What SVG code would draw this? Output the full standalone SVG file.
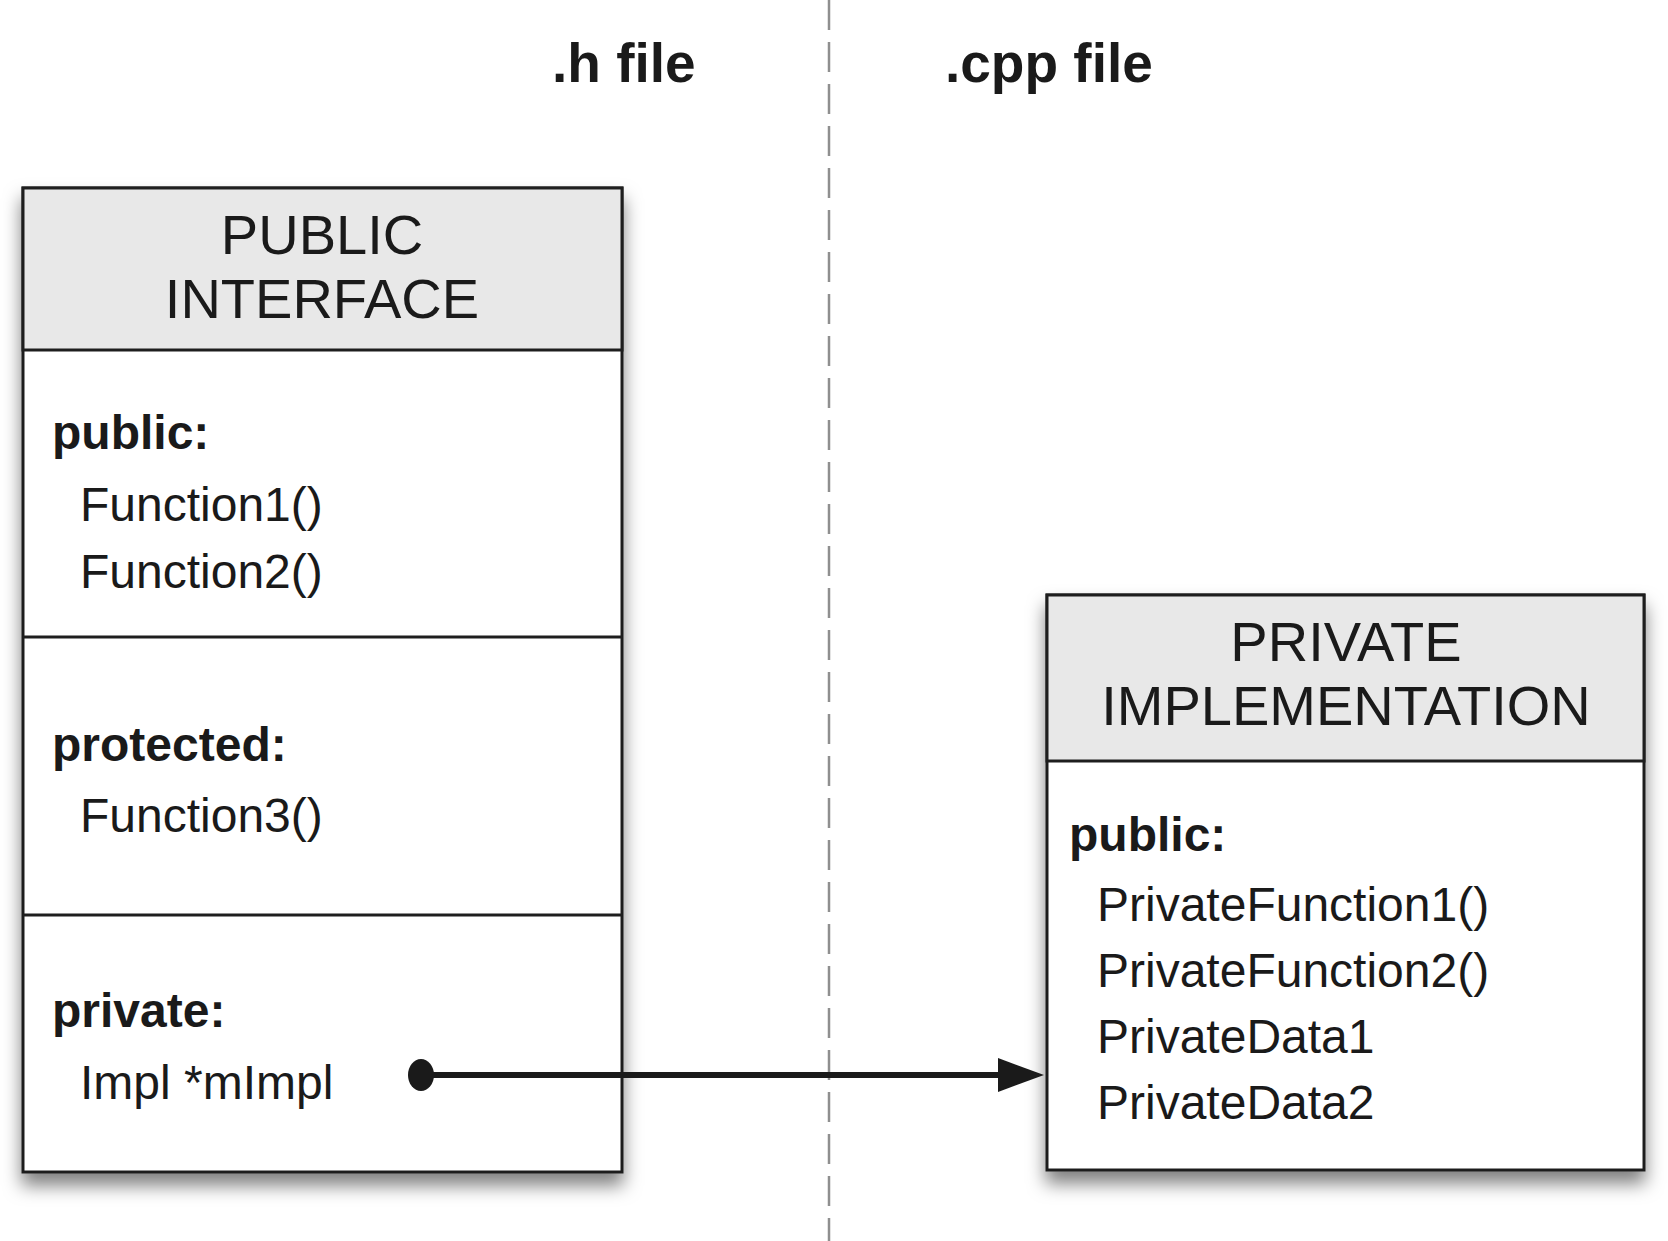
<svg xmlns="http://www.w3.org/2000/svg" width="1668" height="1241" viewBox="0 0 1668 1241">
<style>
.box{fill:#fff;stroke:#1e1e1e;stroke-width:3}
.hdr{fill:#e8e8e8;stroke:#1e1e1e;stroke-width:3}
.div{stroke:#1e1e1e;stroke-width:3}
.title{font-family:"Liberation Sans",Arial,sans-serif;font-size:56px;fill:#1a1a1a;text-anchor:middle}
.lbl{font-family:"Liberation Sans",Arial,sans-serif;font-size:48px;font-weight:bold;fill:#1a1a1a}
.item{font-family:"Liberation Sans",Arial,sans-serif;font-size:48px;fill:#1a1a1a}
.file{font-family:"Liberation Sans",Arial,sans-serif;font-size:55px;font-weight:bold;fill:#1a1a1a}
</style>
<defs>
<filter id="shadow" x="-10%" y="-10%" width="120%" height="125%">
<feDropShadow dx="0" dy="12" stdDeviation="9" flood-color="#000" flood-opacity="0.5"/>
</filter>
</defs>
<rect width="1668" height="1241" fill="#fff"/>
<g id="divider">
<line x1="829" y1="0" x2="829" y2="1241" stroke="#8f8f8f" stroke-width="2.5" stroke-dasharray="30 12"/>
</g>
<g id="file-labels">
<text class="file" x="552" y="82">.h file</text>
<text class="file" x="945" y="82">.cpp file</text>
</g>
<g id="public-interface">
<rect class="box" x="23" y="188" width="599" height="984" filter="url(#shadow)"/>
<rect class="hdr" x="23" y="188" width="599" height="162"/>
<line class="div" x1="23" y1="637" x2="622" y2="637"/>
<line class="div" x1="23" y1="915" x2="622" y2="915"/>
<text class="title" x="322" y="254">PUBLIC</text>
<text class="title" x="322" y="318">INTERFACE</text>
<text class="lbl" x="52" y="449">public:</text>
<text class="item" x="80" y="521">Function1()</text>
<text class="item" x="80" y="588">Function2()</text>
<text class="lbl" x="52" y="761">protected:</text>
<text class="item" x="80" y="832">Function3()</text>
<text class="lbl" x="52" y="1027">private:</text>
<text class="item" x="80" y="1099">Impl *mImpl</text>
</g>
<g id="private-implementation">
<rect class="box" x="1047" y="595" width="597" height="575" filter="url(#shadow)"/>
<rect class="hdr" x="1047" y="595" width="597" height="166"/>
<text class="title" x="1346" y="661">PRIVATE</text>
<text class="title" x="1346" y="725">IMPLEMENTATION</text>
<text class="lbl" x="1069" y="851">public:</text>
<text class="item" x="1097" y="921">PrivateFunction1()</text>
<text class="item" x="1097" y="987">PrivateFunction2()</text>
<text class="item" x="1097" y="1053">PrivateData1</text>
<text class="item" x="1097" y="1119">PrivateData2</text>
</g>
<g id="connectors">
<ellipse cx="421" cy="1075" rx="13" ry="16" fill="#1a1a1a"/>
<line x1="421" y1="1075" x2="1000" y2="1075" stroke="#1a1a1a" stroke-width="6"/>
<path d="M998,1058 L1044,1075 L998,1092 z" fill="#1a1a1a"/>
</g>
</svg>
